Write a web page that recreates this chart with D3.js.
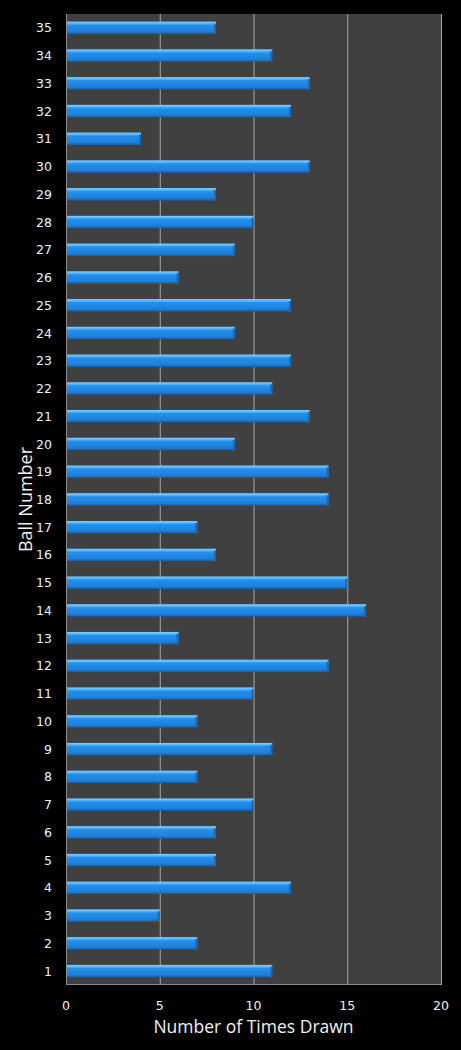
<!DOCTYPE html>
<html>
<head>
<meta charset="utf-8">
<script src="https://cdn.jsdelivr.net/npm/d3@7.9.0/dist/d3.min.js"></script>
<style>
  html, body { margin: 0; padding: 0; background: #000; }
  svg { display: block; }
</style>
</head>
<body>
<svg id="chart" width="461" height="1050"></svg>
<script>
// ball numbers, bottom to top
const balls = d3.range(1, 36).map(String);
// times drawn for balls 1..35
const timesDrawn = [11, 7, 5, 12, 8, 8, 10, 7, 11, 7,
                    10, 14, 6, 16, 15, 8, 7, 14, 14, 9,
                    13, 11, 12, 9, 12, 6, 9, 10, 8, 13,
                    4, 12, 13, 11, 8];
const xTicks = [0, 5, 10, 15, 20];

const data = balls.map((b, i) => ({ ball: b, value: timesDrawn[i] }));

const svg = d3.select('#chart');
const margin = { left: 66, right: 20, top: 14, bottom: 65 };
const width = 461 - margin.left - margin.right;
const height = 1050 - margin.top - margin.bottom;

const x = d3.scaleLinear().domain([0, 20]).range([0, width]);
const y = d3.scaleBand()
    .domain(balls.slice().reverse())
    .range([0, height])
    .paddingInner(0.55)
    .paddingOuter(0.275);

const defs = svg.append('defs');
const grad = defs.append('linearGradient')
    .attr('id', 'barGrad')
    .attr('x1', 0).attr('y1', 0).attr('x2', 0).attr('y2', 1);
grad.append('stop').attr('offset', '0%').attr('stop-color', '#8ad0ff');
grad.append('stop').attr('offset', '20%').attr('stop-color', '#45acf7');
grad.append('stop').attr('offset', '28%').attr('stop-color', '#2490ea');
grad.append('stop').attr('offset', '80%').attr('stop-color', '#1c80dc');
grad.append('stop').attr('offset', '100%').attr('stop-color', '#125ca4');

const g = svg.append('g').attr('transform', `translate(${margin.left},${margin.top})`);

g.append('rect')
    .attr('width', width)
    .attr('height', height)
    .attr('fill', '#404040');

// gridlines
g.selectAll('.grid')
    .data(xTicks.slice(1))
    .join('line')
    .attr('x1', d => x(d) + 0.5)
    .attr('x2', d => x(d) + 0.5)
    .attr('y1', 0)
    .attr('y2', height)
    .attr('stroke', '#a8a8a8')
    .attr('stroke-width', 1);

// bars
const bars = g.selectAll('.bar')
    .data(data)
    .join('g');

bars.append('rect')
    .attr('x', 1)
    .attr('y', d => y(d.ball))
    .attr('width', d => x(d.value) - 1)
    .attr('height', y.bandwidth())
    .attr('fill', 'url(#barGrad)');

// darker end cap
bars.append('rect')
    .attr('x', d => x(d.value) - 2)
    .attr('y', d => y(d.ball) + 2)
    .attr('width', 2)
    .attr('height', y.bandwidth() - 2)
    .attr('fill', '#176bbf');

// axis lines
g.append('line')
    .attr('x1', 0.5).attr('x2', 0.5)
    .attr('y1', 0).attr('y2', height)
    .attr('stroke', '#8c8c8c');
g.append('line')
    .attr('x1', 0).attr('x2', width)
    .attr('y1', height - 0.5).attr('y2', height - 0.5)
    .attr('stroke', '#8c8c8c');

// y labels
g.append('g')
    .selectAll('text')
    .data(balls)
    .join('text')
    .attr('x', -14)
    .attr('y', d => y(d) + y.bandwidth() / 2)
    .attr('dy', '0.36em')
    .attr('text-anchor', 'end')
    .attr('fill', '#f2f2f2')
    .attr('font-family', 'DejaVu Sans, sans-serif')
    .attr('font-size', 12.5)
    .text(d => d);

// x labels
g.append('g')
    .selectAll('text')
    .data(xTicks)
    .join('text')
    .attr('x', d => x(d))
    .attr('y', height + 25)
    .attr('text-anchor', 'middle')
    .attr('fill', '#f2f2f2')
    .attr('font-family', 'DejaVu Sans, sans-serif')
    .attr('font-size', 12.5)
    .text(d => d);

svg.append('text')
    .attr('x', margin.left + width / 2)
    .attr('y', 1033)
    .attr('text-anchor', 'middle')
    .attr('fill', '#f2f2f2')
    .attr('font-family', 'Open Sans, sans-serif')
    .attr('font-size', 17.5)
    .text('Number of Times Drawn');

svg.append('text')
    .attr('transform', `translate(32, ${margin.top + height / 2}) rotate(-90)`)
    .attr('text-anchor', 'middle')
    .attr('fill', '#f2f2f2')
    .attr('font-family', 'Open Sans, sans-serif')
    .attr('font-size', 18)
    .text('Ball Number');
</script>
</body>
</html>
